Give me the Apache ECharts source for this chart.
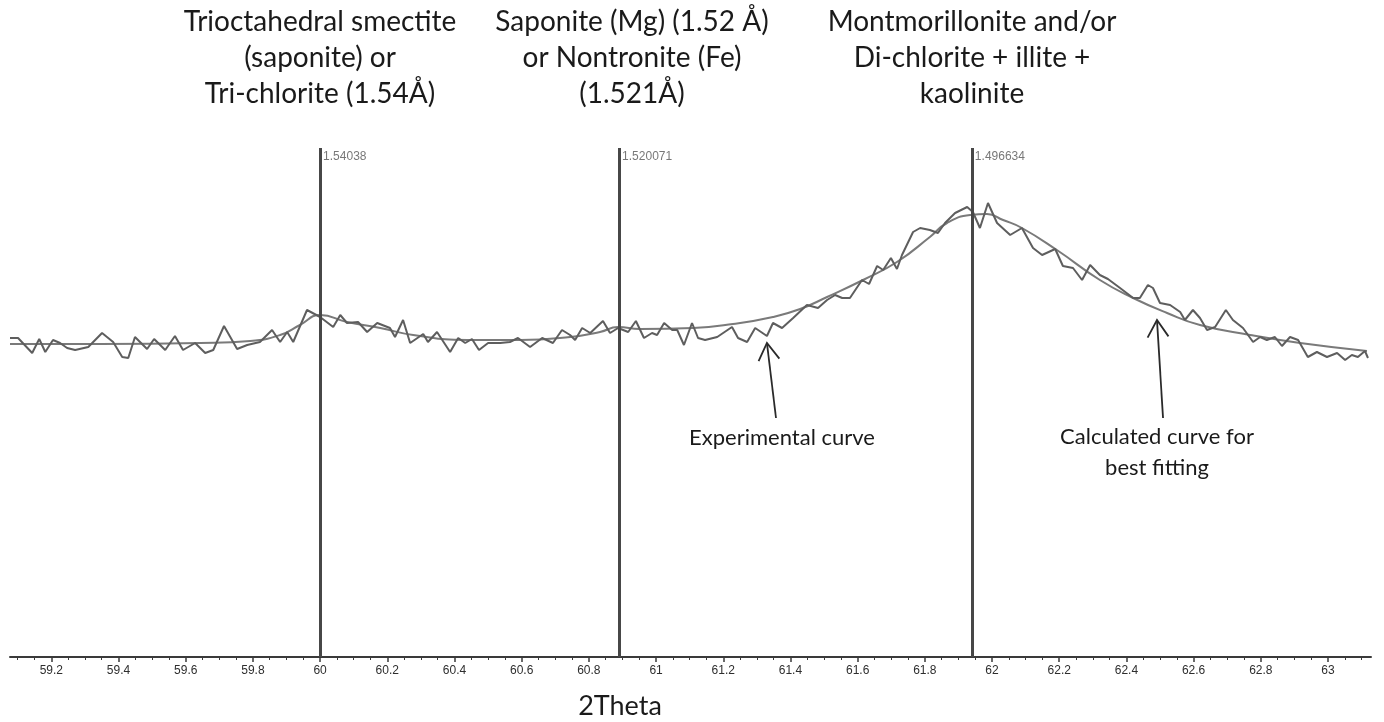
<!DOCTYPE html>
<html>
<head>
<meta charset="utf-8">
<title>2Theta profile fit</title>
<script src="https://cdn.jsdelivr.net/npm/echarts@6/dist/echarts.min.js"></script>
<style>
  html, body { margin: 0; padding: 0; background: #ffffff; }
  #chart { width: 1384px; height: 722px; }
</style>
</head>
<body>
<div id="chart"></div>
<script>
// Measured diffraction profile (2Theta, intensity in arbitrary units)
const expTheta = [
  59.077, 59.101, 59.143, 59.164, 59.182, 59.205, 59.226, 59.247, 59.271, 59.310,
  59.351, 59.384, 59.411, 59.429, 59.449, 59.485, 59.506, 59.539, 59.568, 59.592,
  59.628, 59.658, 59.682, 59.714, 59.753, 59.783, 59.821, 59.857, 59.881, 59.902,
  59.920, 59.961, 60.000, 60.039, 60.060, 60.080, 60.113, 60.140, 60.170, 60.208,
  60.223, 60.247, 60.268, 60.307, 60.321, 60.348, 60.387, 60.411, 60.432, 60.452,
  60.473, 60.500, 60.536, 60.565, 60.589, 60.625, 60.661, 60.693, 60.720, 60.744,
  60.759, 60.780, 60.804, 60.842, 60.863, 60.887, 60.917, 60.940, 60.964, 60.988,
  61.003, 61.024, 61.048, 61.063, 61.083, 61.107, 61.125, 61.146, 61.182, 61.226,
  61.244, 61.271, 61.295, 61.330, 61.348, 61.375, 61.408, 61.449, 61.482, 61.509,
  61.533, 61.554, 61.577, 61.613, 61.634, 61.658, 61.676, 61.699, 61.717, 61.732,
  61.765, 61.786, 61.815, 61.839, 61.860, 61.890, 61.926, 61.943, 61.964, 61.988,
  62.015, 62.054, 62.089, 62.122, 62.149, 62.188, 62.211, 62.241, 62.268, 62.292,
  62.321, 62.345, 62.381, 62.420, 62.440, 62.464, 62.479, 62.500, 62.530, 62.560,
  62.574, 62.598, 62.619, 62.640, 62.664, 62.696, 62.717, 62.747, 62.777, 62.798,
  62.818, 62.842, 62.863, 62.887, 62.911, 62.940, 62.967, 62.997, 63.027, 63.051,
  63.071, 63.089, 63.110, 63.119
];
const expCounts = [
  319, 319, 304, 318, 305, 317, 314, 309, 307, 310,
  324, 315, 300, 299, 320, 308, 318, 307, 321, 307,
  314, 304, 307, 331, 308, 312, 315, 327, 315, 325,
  315, 347, 340, 330, 342, 334, 335, 325, 334, 329,
  320, 337, 314, 323, 315, 325, 305, 319, 314, 318,
  307, 314, 314, 315, 319, 310, 319, 314, 327, 322,
  317, 329, 324, 336, 324, 329, 325, 336, 319, 324,
  322, 334, 327, 327, 312, 334, 319, 317, 320, 330,
  319, 315, 329, 321, 334, 329, 339, 352, 349, 357,
  362, 359, 359, 377, 373, 391, 387, 399, 388, 402,
  425, 429, 427, 424, 434, 444, 450, 445, 429, 454,
  434, 422, 429, 409, 402, 408, 391, 389, 377, 392,
  382, 378, 369, 359, 359, 372, 369, 354, 352, 345,
  337, 347, 339, 327, 330, 347, 337, 329, 315, 320,
  317, 320, 311, 320, 317, 300, 305, 300, 304, 297,
  302, 300, 306, 299
];

// Fitted (calculated) profile
const calcTheta = [
  59.077, 59.345, 59.643, 59.792, 59.881, 59.940, 60.000, 60.080, 60.179, 60.277,
  60.438, 60.595, 60.744, 60.833, 60.887, 60.952, 61.110, 61.229, 61.348, 61.429,
  61.509, 61.616, 61.717, 61.815, 61.866, 61.935, 61.985, 62.033, 62.089, 62.193,
  62.321, 62.420, 62.521, 62.619, 62.768, 62.917, 63.116
];
const calcCounts = [
  313, 313, 314, 316, 322, 332, 342, 335, 329, 322,
  317, 317, 320, 325, 330, 328, 329, 333, 340, 348,
  360, 377, 395, 420, 434, 442, 443, 437, 429, 407,
  377, 359, 344, 332, 322, 314, 306
];

// Reflection positions (2Theta) and their d-spacings
const peakTheta = [60.0, 60.89, 61.94];
const peakLabels = ['1.54038', '1.520071', '1.496634'];

// Axis ticks
const tickValues = [59.2, 59.4, 59.6, 59.8, 60, 60.2, 60.4, 60.6, 60.8, 61,
                    61.2, 61.4, 61.6, 61.8, 62, 62.2, 62.4, 62.6, 62.8, 63];
const xMin = 59.077, xMax = 63.128;
const yMax = 509;

const minorTicks = [];
for (let k = 59.1; k < xMax; k += 0.05) {
  const v = Math.round(k * 100) / 100;
  if (!tickValues.some(t => Math.abs(t - v) < 1e-6)) minorTicks.push(v);
}

const zip = (xs, ys) => xs.map((x, i) => [x, ys[i]]);

const headFont = 'Lato, "Open Sans", "Noto Sans", sans-serif';
const tickFont = '"Liberation Sans Narrow", "Liberation Sans", Arial, sans-serif';

const chart = echarts.init(document.getElementById('chart'), null, { renderer: 'canvas' });

chart.setOption({
  backgroundColor: '#ffffff',
  animation: false,
  grid: { left: 10, right: 13, top: 148, bottom: 65, containLabel: false },
  xAxis: [
    {
      type: 'value', min: xMin, max: xMax,
      axisLine: { show: true, lineStyle: { color: '#3a3a3a', width: 2 } },
      axisTick: { show: true, customValues: tickValues, length: 5, lineStyle: { color: '#3a3a3a', width: 1.5 } },
      axisLabel: {
        show: true, customValues: tickValues, color: '#2e2e2e', fontSize: 12,
        fontFamily: tickFont, margin: 8
      },
      splitLine: { show: false }
    },
    {
      type: 'value', min: xMin, max: xMax, position: 'bottom',
      axisLine: { show: false },
      axisTick: { show: true, customValues: minorTicks, length: 3, lineStyle: { color: '#3a3a3a', width: 1 } },
      axisLabel: { show: false },
      splitLine: { show: false }
    }
  ],
  yAxis: {
    type: 'value', min: 0, max: yMax, show: false,
    splitLine: { show: false }
  },
  graphic: [
    {
      type: 'text', x: 320, y: 4,
      style: {
        text: 'Trioctahedral smectite\n(saponite) or\nTri-chlorite (1.54Å)',
        align: 'center', verticalAlign: 'top', fill: '#1a1a1a',
        font: '28px ' + headFont, lineHeight: 36
      }
    },
    {
      type: 'text', x: 632, y: 4,
      style: {
        text: 'Saponite (Mg) (1.52 Å)\nor Nontronite (Fe)\n(1.521Å)',
        align: 'center', verticalAlign: 'top', fill: '#1a1a1a',
        font: '28px ' + headFont, lineHeight: 36
      }
    },
    {
      type: 'text', x: 972, y: 4,
      style: {
        text: 'Montmorillonite and/or\nDi-chlorite + illite +\nkaolinite',
        align: 'center', verticalAlign: 'top', fill: '#1a1a1a',
        font: '28px ' + headFont, lineHeight: 36
      }
    },
    {
      type: 'text', x: 782, y: 438,
      style: {
        text: 'Experimental curve', align: 'center', verticalAlign: 'middle',
        fill: '#1a1a1a', font: '22px ' + headFont
      }
    },
    {
      type: 'text', x: 1157, y: 421,
      style: {
        text: 'Calculated curve for\nbest fitting', align: 'center', verticalAlign: 'top',
        fill: '#1a1a1a', font: '22px ' + headFont, lineHeight: 31
      }
    },
    {
      type: 'text', x: 620, y: 706,
      style: {
        text: '2Theta', align: 'center', verticalAlign: 'middle',
        fill: '#1a1a1a', font: '27px ' + headFont
      }
    }
  ],
  series: [
    {
      name: 'Calculated', type: 'line', data: zip(calcTheta, calcCounts),
      xAxisIndex: 0, yAxisIndex: 0,
      smooth: 0.5, showSymbol: false, symbol: 'none', silent: true,
      lineStyle: { color: '#7a7a7a', width: 2 },
      markLine: {
        silent: true, symbol: ['none', 'none'],
        label: { show: false },
        lineStyle: { color: '#474747', width: 3, type: 'solid' },
        data: peakTheta.map(v => [{ coord: [v, 0] }, { coord: [v, yMax] }])
      },
      z: 3
    },
    {
      name: 'Experimental', type: 'line', data: zip(expTheta, expCounts),
      xAxisIndex: 0, yAxisIndex: 0,
      smooth: false, showSymbol: false, symbol: 'none', silent: true,
      lineStyle: { color: '#5e5e5e', width: 2 },
      z: 4
    },
    {
      name: 'd-spacing', type: 'scatter', xAxisIndex: 0, yAxisIndex: 0,
      symbolSize: 0, silent: true,
      data: peakTheta.map(v => [v, 500]),
      label: {
        show: true, position: 'right', distance: 3,
        formatter: p => peakLabels[p.dataIndex],
        color: '#555555', fontSize: 12, fontFamily: tickFont
      }
    }
  ]
});

// Annotation arrows, anchored in data coordinates
function arrowShapes(tip, tail) {
  const a = chart.convertToPixel({ xAxisIndex: 0, yAxisIndex: 0 }, tip);
  const b = chart.convertToPixel({ xAxisIndex: 0, yAxisIndex: 0 }, tail);
  const ang = Math.atan2(b[1] - a[1], b[0] - a[0]);
  const len = 20, spread = 0.55;
  const h1 = [a[0] + len * Math.cos(ang + spread), a[1] + len * Math.sin(ang + spread)];
  const h2 = [a[0] + len * Math.cos(ang - spread), a[1] + len * Math.sin(ang - spread)];
  const st = { stroke: '#2a2a2a', lineWidth: 1.8, fill: null };
  return [
    { type: 'polyline', shape: { points: [a, b] }, style: st, z: 10 },
    { type: 'polyline', shape: { points: [h1, a, h2] }, style: st, z: 10 }
  ];
}
const arrows = [].concat(
  arrowShapes([61.330, 314], [61.357, 239]),
  arrowShapes([62.491, 337], [62.509, 239])
);
const prevGraphic = chart.getOption().graphic[0].elements || [];
chart.setOption({ graphic: prevGraphic.concat(arrows) }, { replaceMerge: ['graphic'] });
</script>
</body>
</html>
